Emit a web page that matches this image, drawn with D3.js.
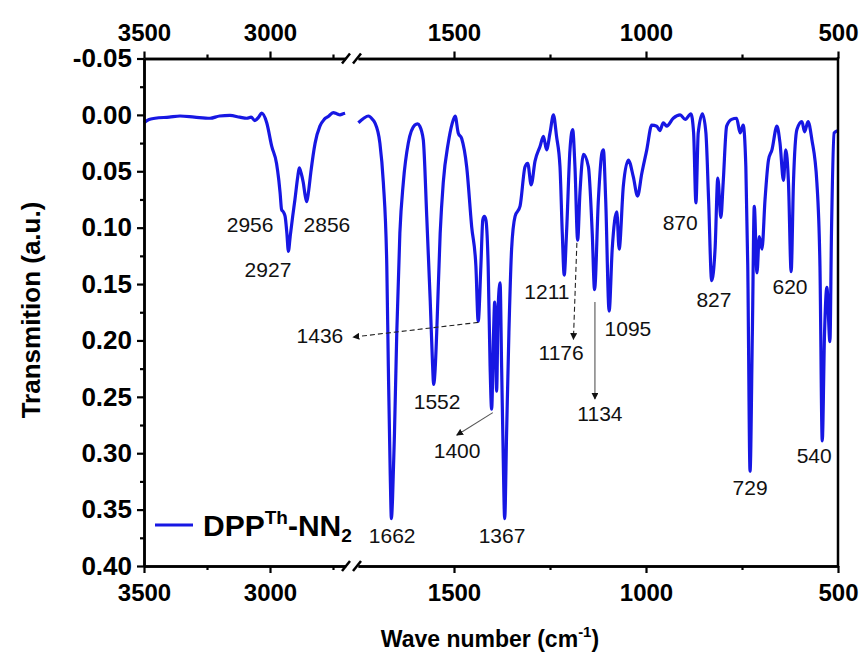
<!DOCTYPE html>
<html><head><meta charset="utf-8">
<script src="https://cdn.jsdelivr.net/npm/d3@7"></script>
<style>
body{margin:0;background:#fff}
svg{display:block}
text{font-family:Arial,"Liberation Sans",sans-serif}
</style>
</head><body>
<svg id="chart" width="865" height="662"></svg>
<script>
// ---------- data ----------
const highWn = [3500,3480,3456,3400,3357,3300,3238,3200,3159,3120,3092,3075,3060,3045,3033,3013,2993,2974,2965,2960,2954,2947,2940,2933,2927,2920,2910,2901,2890,2884,2876,2868,2860,2854,2847,2838,2821,2802,2785,2769,2749,2735,2722,2710,2702];
const highT  = [0.007,0.004,0.003,0.002,0.001,0.002,0.003,0.001,0.0005,0.002,0.003,0.002,0.005,0.002,-0.0015,0.007,0.028,0.043,0.058,0.069,0.084,0.086,0.090,0.105,0.121,0.108,0.090,0.075,0.055,0.047,0.052,0.060,0.072,0.077,0.068,0.051,0.025,0.010,0.004,0.0015,-0.002,-0.001,0.000,-0.001,-0.0015];

const lowWn = [1749,1735,1723,1712,1706,1693,1684,1675,1671,1666,1663,1660,1655,1649,1641,1632,1619,1602,1595,1589,1580,1571,1562,1556,1553,1549,1545,1536,1528,1515,1505,1497,1489,1480,1467,1454,1443,1437,1430,1425,1421,1417,1411,1406,1402,1397,1394,1389,1385,1380,1376,1372,1368,1363,1357,1350,1341,1328,1315,1308,1299,1289,1276,1267,1259,1250,1241,1233,1224,1218,1213,1207,1198,1191,1185,1178,1172,1163,1150,1140,1134,1124,1115,1111,1105,1096,1088,1076,1070,1059,1046,1033,1022,1011,998,985,972,964,955,946,929,911,898,883,876,870,864,853,844,837,829,820,813,805,799,790,777,764,755,747,740,735,729,723,718,711,705,698,690,681,672,659,651,642,636,629,622,616,607,594,587,578,568,555,547,541,535,529,521,517,510,502];
const lowT  = [0.007,0.003,0.001,0.004,0.007,0.025,0.060,0.134,0.223,0.320,0.358,0.340,0.282,0.193,0.105,0.060,0.025,0.009,0.008,0.010,0.022,0.090,0.164,0.220,0.239,0.225,0.193,0.105,0.060,0.025,0.008,0.001,0.016,0.021,0.046,0.099,0.134,0.183,0.134,0.093,0.090,0.093,0.134,0.223,0.261,0.193,0.166,0.245,0.170,0.149,0.223,0.300,0.358,0.282,0.193,0.119,0.090,0.081,0.046,0.043,0.062,0.041,0.028,0.019,0.031,0.016,0.000,0.019,0.046,0.105,0.142,0.105,0.031,0.013,0.046,0.111,0.069,0.035,0.046,0.105,0.155,0.075,0.034,0.031,0.075,0.174,0.119,0.086,0.119,0.063,0.040,0.055,0.072,0.052,0.031,0.009,0.010,0.014,0.007,0.010,0.003,0.000,0.004,-0.001,0.016,0.078,0.016,-0.001,0.016,0.075,0.147,0.118,0.056,0.091,0.060,0.010,0.004,0.003,0.016,0.009,0.046,0.134,0.316,0.193,0.081,0.140,0.108,0.119,0.075,0.040,0.031,0.010,0.025,0.058,0.031,0.060,0.139,0.060,0.013,0.006,0.015,0.006,0.022,0.060,0.134,0.289,0.193,0.153,0.201,0.105,0.016,0.014];

const xMajorHigh = [3500, 3000];
const xMinorHigh = [3250, 2750];
const xMajorLow  = [1500, 1000, 500];
const xMinorLow  = [1250, 750];
const yMajor = [-0.05,0,0.05,0.10,0.15,0.20,0.25,0.30,0.35,0.40];
const yMinor = [-0.025,0.025,0.075,0.125,0.175,0.225,0.275,0.325,0.375];

const seriesName = "DPP";
// peak labels: text, anchor wavenumber, anchor transmittance
const peakLabels = [
  ["2956",3079,0.097],["2856",2774,0.097],["2927",3008,0.137],["1436",2802,0.196],
  ["1552",1544,0.254],["1400",1492,0.298],["1662",1661,0.373],["1367",1375,0.373],
  ["1211",1258,0.157],["1176",1221,0.211],["1134",1120,0.265],["1095",1047,0.189],
  ["870",911,0.0956],["827",823,0.164],["620",625,0.152],["729",729,0.330],["540",562,0.302]
];
// arrows: from (wn,T) to (wn,T), dashed?
const arrows = [
  [1437,0.184,1763,0.197,true],
  [1399,0.264,1493,0.284,false],
  [1180,0.1135,1189,0.199,true],
  [1133,0.166,1133,0.252,false]
];

// ---------- layout ----------
const svg = d3.select("#chart");
const yTop = 58.5, yBot = 566;
const xHigh = d3.scaleLinear().domain([3500, 2700]).range([144, 345.6]);
const xLow  = d3.scaleLinear().domain([1750, 500]).range([358, 838]);
const y = d3.scaleLinear().domain([-0.05, 0.40]).range([yTop, yBot]);
const xAny = wn => wn > 2000 ? xHigh(wn) : xLow(wn);

const blue = "#1717e3";

// spectrum
const line = d3.line().curve(d3.curveMonotoneX);
svg.append("path")
  .attr("d", line(highWn.map((w,i)=>[xHigh(w), y(highT[i])])))
  .attr("fill","none").attr("stroke",blue).attr("stroke-width",3.2).attr("stroke-linejoin","round");
svg.append("path")
  .attr("d", line(lowWn.map((w,i)=>[xLow(w), y(lowT[i])])))
  .attr("fill","none").attr("stroke",blue).attr("stroke-width",3.2).attr("stroke-linejoin","round");

// axes
function styleAxis(size){
  return g => {
    g.selectAll(".domain").attr("stroke","#000").attr("stroke-width",2.5);
    g.selectAll(".tick line").attr("stroke","#000").attr("stroke-width",2.2);
    g.selectAll(".tick text").attr("fill","#000").attr("font-size",size).attr("font-weight","bold")
     .attr("font-family","Arial,'Liberation Sans',sans-serif");
  };
}
const fmtX = d => String(d);
[[xHigh,xMajorHigh,xMinorHigh],[xLow,xMajorLow,xMinorLow]].forEach(([sc,maj,min])=>{
  svg.append("g").attr("transform",`translate(0,${yBot})`)
    .call(d3.axisBottom(sc).tickValues(maj).tickFormat(fmtX).tickSize(7).tickSizeOuter(0).tickPadding(11)).call(styleAxis(24));
  svg.append("g").attr("transform",`translate(0,${yBot})`)
    .call(d3.axisBottom(sc).tickValues(min).tickFormat("").tickSize(4).tickSizeOuter(0)).call(styleAxis(24));
  svg.append("g").attr("transform",`translate(0,${yTop})`)
    .call(d3.axisTop(sc).tickValues(maj).tickFormat(fmtX).tickSize(7).tickSizeOuter(0).tickPadding(11)).call(styleAxis(24));
  svg.append("g").attr("transform",`translate(0,${yTop})`)
    .call(d3.axisTop(sc).tickValues(min).tickFormat("").tickSize(4).tickSizeOuter(0)).call(styleAxis(24));
});
svg.append("g").attr("transform","translate(144,0)")
  .call(d3.axisLeft(y).tickValues(yMajor).tickFormat(d=>d.toFixed(2)).tickSize(7).tickSizeOuter(0).tickPadding(5)).call(styleAxis(26));
svg.append("g").attr("transform","translate(144,0)")
  .call(d3.axisLeft(y).tickValues(yMinor).tickFormat("").tickSize(4).tickSizeOuter(0)).call(styleAxis(26));
svg.append("line").attr("x1",838).attr("x2",838).attr("y1",yTop-1.2).attr("y2",yBot+1.2)
  .attr("stroke","#000").attr("stroke-width",2.5);

// axis break marks
[yTop,yBot].forEach(yy=>{
  [346,357].forEach(xx=>{
    svg.append("line").attr("x1",xx-4).attr("y1",yy+5).attr("x2",xx+4).attr("y2",yy-5)
      .attr("stroke","#000").attr("stroke-width",2.5);
  });
});

// arrow markers
const defs = svg.append("defs");
defs.append("marker").attr("id","ah").attr("viewBox","0 0 10 10").attr("refX",9).attr("refY",5)
  .attr("markerWidth",7).attr("markerHeight",7).attr("markerUnits","userSpaceOnUse").attr("orient","auto")
  .append("path").attr("d","M0,0L10,5L0,10z").attr("fill","#111");
arrows.forEach(([w1,t1,w2,t2,dash])=>{
  svg.append("line").attr("x1",xLow(w1)).attr("y1",y(t1)).attr("x2",xLow(w2)).attr("y2",y(t2))
    .attr("stroke", dash ? "#222" : "#555").attr("stroke-width",1.1)
    .attr("stroke-dasharray", dash ? "5,3" : null).attr("marker-end","url(#ah)");
});

// peak labels
peakLabels.forEach(([t,w,v])=>{
  const xx = (t==="1436") ? xHigh(w) : xAny(w);
  svg.append("text").attr("x",xx).attr("y",y(v)).attr("text-anchor","middle")
    .attr("dominant-baseline","central").attr("font-size",21).attr("fill","#111").text(t);
});

// legend
svg.append("line").attr("x1",155).attr("x2",193).attr("y1",525).attr("y2",525)
  .attr("stroke",blue).attr("stroke-width",3.2);
const lg = svg.append("text").attr("x",203).attr("y",536).attr("font-size",30).attr("font-weight","bold").attr("fill","#000");
lg.append("tspan").text(seriesName);
lg.append("tspan").attr("font-size",19).attr("dy",-12).text("Th");
lg.append("tspan").attr("dy",12).text("-NN");
lg.append("tspan").attr("font-size",19).attr("dy",6).text("2");

// axis titles
const xt = svg.append("text").attr("x",490).attr("y",647).attr("text-anchor","middle")
  .attr("font-size",23).attr("font-weight","bold").attr("fill","#000");
xt.append("tspan").text("Wave number (cm");
xt.append("tspan").attr("font-size",15).attr("dy",-10).text("-1");
xt.append("tspan").attr("dy",10).text(")");
svg.append("text").attr("transform","translate(40,310) rotate(-90)").attr("text-anchor","middle")
  .attr("font-size",26).attr("font-weight","bold").attr("fill","#000").text("Transmition (a.u.)");
</script>
</body></html>
